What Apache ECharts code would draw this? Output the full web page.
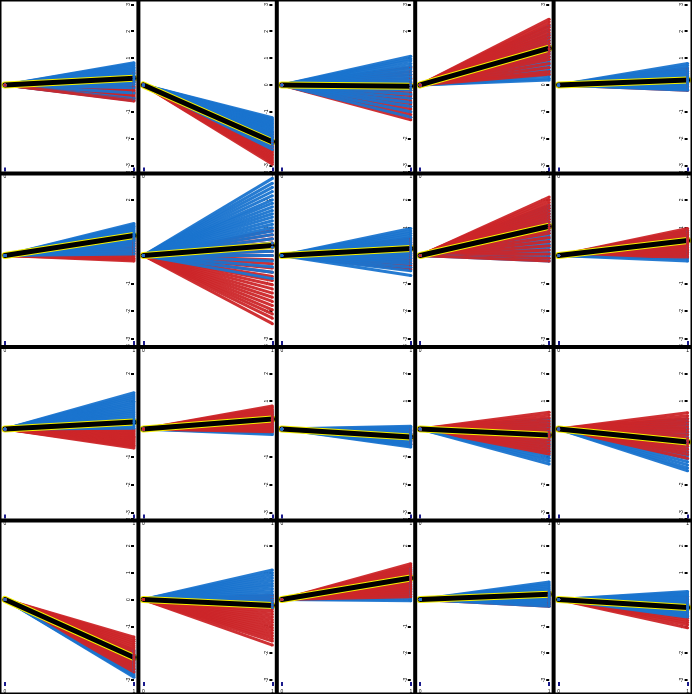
<!DOCTYPE html>
<html><head><meta charset="utf-8">
<script src="https://cdn.jsdelivr.net/npm/echarts@6/dist/echarts.min.js"></script>
<style>html,body{margin:0;padding:0;background:#fff}#c{width:692px;height:694px}</style>
</head><body><div id="c"></div>
<script>
// End values (at x = 1) of each line; every line starts at (0, 0)
const blue_r0c0 = [0.83,0.78,0.72,0.66,0.6,0.55,0.5,0.44,0.38,0.33,0.27,0.2,0.14,0.08,0.02,-0.1,-0.3,-0.5,-0.58];
const red_r0c0  = [0.45,0.3,0.18,0.1,0.02,-0.05,-0.1,-0.15,-0.2,-0.24,-0.28,-0.32,-0.36,-0.4,-0.44,-0.48,-0.52,-0.56,-0.6];
const blue_r0c1 = [-1.22,-1.28,-1.33,-1.38,-1.43,-1.48,-1.53,-1.58,-1.63,-1.68,-1.73,-1.78,-1.84,-1.9,-1.96,-2.02,-2.1,-2.2,-2.3,-2.4];
const red_r0c1  = [-1.75,-1.85,-1.95,-2.05,-2.15,-2.22,-2.28,-2.34,-2.4,-2.46,-2.52,-2.58,-2.64,-2.7,-2.76,-2.82,-2.88,-2.95];
const blue_r0c2 = [1.07,0.98,0.9,0.8,0.7,0.6,0.5,0.4,0.3,0.2,0.1,0.0,-0.1,-0.2,-0.35,-0.5,-0.65,-0.8,-1.0,-1.2];
const red_r0c2  = [0.65,0.5,0.38,0.25,0.12,0.02,-0.1,-0.2,-0.3,-0.4,-0.5,-0.6,-0.7,-0.8,-0.9,-1.0,-1.1,-1.2,-1.3];
const blue_r0c3 = [2.2,2.05,1.9,1.78,1.66,1.55,1.45,1.35,1.25,1.15,1.05,0.95,0.85,0.75,0.65,0.55,0.45,0.35,0.25,0.18];
const red_r0c3  = [2.45,2.35,2.25,2.15,2.05,1.95,1.85,1.75,1.65,1.55,1.45,1.35,1.25,1.15,1.05,0.95,0.8,0.65,0.5,0.4];
const blue_r0c4 = [0.8,0.72,0.64,0.56,0.5,0.44,0.38,0.32,0.26,0.2,0.14,0.08,0.02,-0.04,-0.1,-0.16,-0.2];
const red_r0c4  = [0.6,0.5,0.42,0.35,0.28,0.22,0.16,0.1,0.05,0.0,-0.05,-0.1,-0.15,-0.2];

const blue_r1c0 = [1.15,1.1,1.05,1.0,0.95,0.9,0.85,0.8,0.75,0.7,0.65,0.6,0.55,0.5,0.42,0.35,0.25,0.15,0.05];
const red_r1c0  = [0.65,0.58,0.5,0.44,0.38,0.32,0.26,0.2,0.14,0.08,0.02,-0.04,-0.1,-0.15,-0.2];
const blue_r1c1 = [2.77,2.6,2.45,2.3,2.15,2.0,1.88,1.75,1.62,1.5,1.38,1.25,1.12,1.0,0.88,0.75,0.6,0.45,0.3,0.15,0.0,-0.2,-0.4,-0.6,-0.83];
const red_r1c1  = [0.9,0.75,0.6,0.45,0.3,0.15,0.0,-0.15,-0.3,-0.45,-0.6,-0.75,-0.9,-1.05,-1.2,-1.35,-1.5,-1.65,-1.8,-1.95,-2.1,-2.25,-2.45];
const blue_r1c2 = [0.97,0.88,0.8,0.72,0.64,0.56,0.48,0.4,0.32,0.24,0.16,0.08,0.0,-0.1,-0.2,-0.3,-0.42,-0.55,-0.72];
const red_r1c2  = [0.6,0.52,0.45,0.38,0.31,0.24,0.17,0.1,0.03,-0.05,-0.12,-0.2,-0.28,-0.36,-0.44,-0.5];
const blue_r1c3 = [1.8,1.7,1.6,1.5,1.4,1.3,1.2,1.1,1.0,0.9,0.8,0.7,0.6,0.5,0.4,0.3,0.2,0.1,0.0,-0.1,-0.2];
const red_r1c3  = [2.1,2.0,1.9,1.8,1.7,1.6,1.5,1.4,1.3,1.2,1.1,1.0,0.9,0.8,0.65,0.5,0.35,0.2,0.05,-0.1,-0.2];
const blue_r1c4 = [0.9,0.84,0.78,0.72,0.66,0.6,0.54,0.48,0.42,0.36,0.3,0.24,0.18,0.12,0.05,-0.05,-0.12,-0.2];
const red_r1c4  = [0.97,0.9,0.83,0.76,0.7,0.64,0.58,0.52,0.46,0.4,0.34,0.28,0.22,0.16,0.1,0.03,-0.05];

const blue_r2c0 = [1.3,1.22,1.15,1.08,1.0,0.93,0.86,0.79,0.72,0.65,0.58,0.51,0.44,0.37,0.3,0.23,0.16,0.09,0.03];
const red_r2c0  = [-0.02,-0.06,-0.1,-0.14,-0.18,-0.22,-0.26,-0.3,-0.34,-0.38,-0.42,-0.46,-0.5,-0.54,-0.58,-0.63,-0.68];
const blue_r2c1 = [0.65,0.58,0.52,0.46,0.4,0.34,0.28,0.22,0.16,0.1,0.04,-0.02,-0.08,-0.14,-0.2];
const red_r2c1  = [0.83,0.77,0.71,0.65,0.59,0.53,0.47,0.41,0.35,0.29,0.23,0.17,0.11,0.05,0.0,-0.05,-0.1];
const blue_r2c2 = [0.1,0.05,0.0,-0.05,-0.1,-0.15,-0.2,-0.25,-0.3,-0.35,-0.4,-0.45,-0.5,-0.55,-0.6,-0.65];
const red_r2c2  = [0.0,-0.05,-0.1,-0.15,-0.2,-0.25,-0.3,-0.35,-0.4,-0.45,-0.5,-0.55];
const blue_r2c3 = [0.36,0.25,0.15,0.05,-0.05,-0.15,-0.25,-0.35,-0.45,-0.55,-0.65,-0.75,-0.85,-0.95,-1.05,-1.15,-1.26];
const red_r2c3  = [0.6,0.5,0.4,0.3,0.2,0.1,0.0,-0.1,-0.2,-0.3,-0.4,-0.5,-0.6,-0.7,-0.8,-0.9];
const blue_r2c4 = [0.36,0.25,0.14,0.03,-0.08,-0.19,-0.3,-0.41,-0.52,-0.63,-0.74,-0.85,-0.96,-1.07,-1.18,-1.29,-1.4,-1.5];
const red_r2c4  = [0.58,0.48,0.38,0.28,0.18,0.08,-0.02,-0.12,-0.22,-0.32,-0.42,-0.52,-0.62,-0.72,-0.82,-0.92,-1.05];

const blue_r3c0 = [-1.9,-1.96,-2.02,-2.08,-2.14,-2.2,-2.26,-2.32,-2.38,-2.44,-2.5,-2.56,-2.62,-2.68,-2.74,-2.8,-2.85,-2.9];
const red_r3c0  = [-1.4,-1.48,-1.56,-1.64,-1.72,-1.8,-1.88,-1.96,-2.04,-2.12,-2.2,-2.28,-2.36,-2.44,-2.52,-2.6,-2.7];
const blue_r3c1 = [1.1,1.0,0.9,0.8,0.7,0.6,0.5,0.4,0.3,0.2,0.1,0.0,-0.1,-0.2,-0.3];
const red_r3c1  = [0.15,0.05,-0.05,-0.15,-0.25,-0.35,-0.45,-0.55,-0.65,-0.75,-0.85,-0.95,-1.05,-1.15,-1.25,-1.35,-1.45,-1.55,-1.7];
const blue_r3c2 = [1.15,1.08,1.01,0.94,0.87,0.8,0.73,0.66,0.59,0.52,0.45,0.38,0.31,0.24,0.17,0.1,0.02,-0.05];
const red_r3c2  = [1.33,1.26,1.19,1.12,1.05,0.98,0.91,0.84,0.77,0.7,0.63,0.56,0.49,0.42,0.35,0.28,0.2,0.1];
const blue_r3c3 = [0.65,0.58,0.51,0.44,0.37,0.3,0.24,0.18,0.12,0.06,0.0,-0.06,-0.12,-0.18,-0.25];
const red_r3c3  = [0.3,0.25,0.2,0.15,0.1,0.05,0.0,-0.05,-0.1,-0.15,-0.2,-0.25];
const blue_r3c4 = [0.3,0.24,0.18,0.12,0.06,0.0,-0.06,-0.12,-0.18,-0.24,-0.3,-0.36,-0.42,-0.48,-0.54,-0.6,-0.65];
const red_r3c4  = [0.1,0.02,-0.06,-0.14,-0.22,-0.3,-0.38,-0.46,-0.54,-0.62,-0.7,-0.78,-0.86,-0.94,-1.05];

const meanEnds = [0.25,-2.12,-0.05,1.37,0.18, 0.72,0.36,0.25,1.05,0.54, 0.25,0.36,-0.29,-0.22,-0.47, -2.16,-0.22,0.8,0.2,-0.3];
const xTickLabels = ['0','1'];
const yMin = -3, yMax = 3;

const panelBlue = [blue_r0c0,blue_r0c1,blue_r0c2,blue_r0c3,blue_r0c4, blue_r1c0,blue_r1c1,blue_r1c2,blue_r1c3,blue_r1c4,
  blue_r2c0,blue_r2c1,blue_r2c2,blue_r2c3,blue_r2c4, blue_r3c0,blue_r3c1,blue_r3c2,blue_r3c3,blue_r3c4];
const panelRed = [red_r0c0,red_r0c1,red_r0c2,red_r0c3,red_r0c4, red_r1c0,red_r1c1,red_r1c2,red_r1c3,red_r1c4,
  red_r2c0,red_r2c1,red_r2c2,red_r2c3,red_r2c4, red_r3c0,red_r3c1,red_r3c2,red_r3c3,red_r3c4];

const W = 692, H = 694, COLS = 5, ROWS = 4;
const cw = W / COLS, rh = H / ROWS;
const BLUE = '#1a74cf', RED = '#cc2629';

const grids = [], xAxes = [], yAxes = [], series = [];
for (let p = 0; p < 20; p++) {
  const r = Math.floor(p / COLS), c = p % COLS;
  grids.push({left: c * cw + 5, top: r * rh - 1.5, width: 129, height: 167});
  xAxes.push({gridIndex: p, type: 'value', min: 0, max: 1, interval: 1, offset: 6, position: 'bottom',
    axisLine: {show: false, onZero: false}, splitLine: {show: false},
    axisTick: {show: true, inside: true, length: 4, lineStyle: {color: '#1a1a8c', width: 2}},
    axisLabel: {show: true, fontSize: 5, color: '#000', margin: 3, formatter: v => xTickLabels[v]}});
  yAxes.push({gridIndex: p, type: 'value', min: yMin, max: yMax, interval: 1, position: 'right',
    axisLine: {show: false, onZero: false}, splitLine: {show: false},
    axisTick: {show: true, inside: true, length: 3, lineStyle: {color: '#000', width: 2}},
    axisLabel: {show: true, inside: true, fontSize: 5, color: '#000', rotate: 90, margin: 3}});
  const b = panelBlue[p], rd = panelRed[p];
  const n = Math.max(b.length, rd.length);
  const mk = (v, col) => ({type: 'line', xAxisIndex: p, yAxisIndex: p, data: [[0, 0], [1, v]],
    symbol: 'circle', symbolSize: 3, showSymbol: true, silent: true,
    itemStyle: {color: col}, lineStyle: {color: col, width: 3, opacity: 0.95}});
  for (let i = 0; i < n; i++) {
    if (i < b.length) series.push(mk(b[i], BLUE));
    if (i < rd.length) series.push(mk(rd[i], RED));
  }
  series.push({type: 'line', xAxisIndex: p, yAxisIndex: p, data: [[0, 0], [1, meanEnds[p]]], showSymbol: false,
    lineStyle: {color: '#f5f000', width: 7, cap: 'round'}});
  series.push({type: 'line', xAxisIndex: p, yAxisIndex: p, data: [[0, 0], [1, meanEnds[p]]], showSymbol: false,
    lineStyle: {color: '#000', width: 5, cap: 'round'}});
}

const graphics = [];
for (let c = 1; c < COLS; c++) graphics.push({type: 'line', shape: {x1: c * cw, y1: 0, x2: c * cw, y2: H}, style: {stroke: '#000', lineWidth: 4}, z: 100});
for (let r = 1; r < ROWS; r++) graphics.push({type: 'line', shape: {x1: 0, y1: r * rh, x2: W, y2: r * rh}, style: {stroke: '#000', lineWidth: 4}, z: 100});
graphics.push({type: 'rect', shape: {x: 0, y: 0, width: W, height: H}, style: {fill: 'none', stroke: '#000', lineWidth: 3}, z: 100});

const chart = echarts.init(document.getElementById('c'), null, {renderer: 'canvas'});
chart.setOption({animation: false, grid: grids, xAxis: xAxes, yAxis: yAxes, series: series, graphic: graphics});
</script></body></html>
